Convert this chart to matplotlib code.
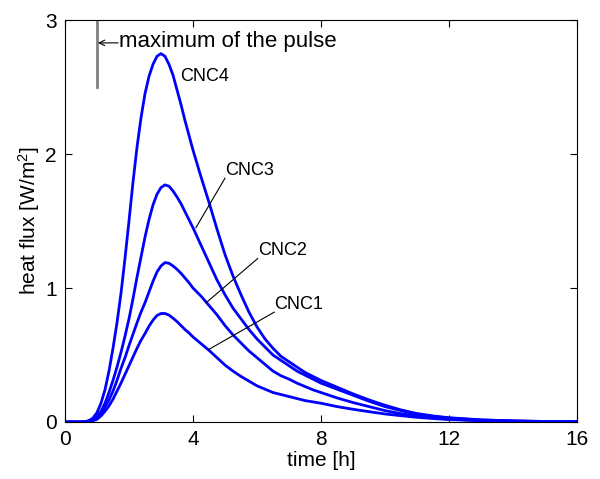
import matplotlib
matplotlib.use("Agg")
import matplotlib.pyplot as plt

plt.rcParams['font.family'] = ['Liberation Sans', 'DejaVu Sans']
plt.rcParams['mathtext.fontset'] = 'custom'
plt.rcParams['mathtext.rm'] = 'Liberation Sans'
plt.rcParams['mathtext.it'] = 'Liberation Sans:italic'

# time [h]
t = [0,
     0.5, 0.625, 0.75, 0.875, 1.0, 1.125, 1.25, 1.375, 1.5, 1.625, 1.75, 1.875,
     2.0, 2.125, 2.25, 2.375, 2.5, 2.625, 2.75, 2.875, 3.0, 3.125, 3.25, 3.375,
     3.5, 3.625, 3.75, 3.875, 4.0,
     4.25, 4.5, 4.75, 5.0, 5.25, 5.5, 5.75, 6.0, 6.25, 6.5, 6.75, 7.0, 7.25, 7.5, 7.75, 8.0,
     8.5, 9.0, 9.5, 10.0, 10.5, 11.0, 11.5, 12.0,
     13, 14, 15, 16]

# heat flux [W/m2]
cnc4 = [0,
        0, 0.003, 0.01, 0.03, 0.07, 0.14, 0.24, 0.38, 0.55, 0.74, 0.96, 1.22,
        1.50, 1.79, 2.05, 2.27, 2.45, 2.58, 2.67, 2.73, 2.75, 2.73, 2.67, 2.59,
        2.48, 2.37, 2.25, 2.14, 2.03,
        1.83, 1.64, 1.44, 1.25, 1.09, 0.95, 0.82, 0.71, 0.62, 0.55, 0.49, 0.45, 0.41, 0.37, 0.34, 0.31,
        0.26, 0.21, 0.165, 0.125, 0.09, 0.063, 0.045, 0.032,
        0.016, 0.008, 0.004, 0.002]
cnc3 = [0,
        0, 0.002, 0.008, 0.02, 0.04, 0.08, 0.14, 0.22, 0.31, 0.41, 0.52, 0.64,
        0.77, 0.92, 1.08, 1.23, 1.38, 1.51, 1.62, 1.70, 1.75, 1.77, 1.76, 1.725,
        1.68, 1.63, 1.57, 1.51, 1.45,
        1.32, 1.19, 1.06, 0.95, 0.85, 0.77, 0.69, 0.62, 0.56, 0.50, 0.46, 0.42, 0.38, 0.35, 0.32, 0.29,
        0.245, 0.20, 0.155, 0.115, 0.085, 0.058, 0.042, 0.029,
        0.015, 0.008, 0.004, 0.002]
cnc2 = [0,
        0, 0.002, 0.006, 0.015, 0.03, 0.06, 0.11, 0.165, 0.23, 0.31, 0.40, 0.48,
        0.57, 0.655, 0.74, 0.82, 0.89, 0.97, 1.05, 1.12, 1.165, 1.19, 1.185, 1.165,
        1.14, 1.11, 1.075, 1.04, 1.00,
        0.94, 0.87, 0.80, 0.72, 0.65, 0.59, 0.53, 0.48, 0.43, 0.38, 0.345, 0.32, 0.29, 0.265, 0.24, 0.22,
        0.18, 0.145, 0.115, 0.085, 0.062, 0.045, 0.032, 0.022,
        0.011, 0.006, 0.003, 0.002]
cnc1 = [0,
        0, 0.001, 0.004, 0.01, 0.02, 0.045, 0.08, 0.12, 0.17, 0.23, 0.29, 0.355,
        0.42, 0.485, 0.55, 0.61, 0.66, 0.715, 0.76, 0.795, 0.81, 0.81, 0.798, 0.775,
        0.75, 0.72, 0.69, 0.665, 0.635,
        0.585, 0.535, 0.48, 0.425, 0.38, 0.34, 0.305, 0.27, 0.245, 0.22, 0.205, 0.19, 0.175, 0.16, 0.15, 0.14,
        0.115, 0.095, 0.077, 0.06, 0.047, 0.035, 0.026, 0.018,
        0.009, 0.005, 0.003, 0.002]

# label text position and the point on the curve it points to
labels = ['CNC1', 'CNC2', 'CNC3']
label_xy = [(6.54, 0.88), (6.02, 1.28), (5.0, 1.88)]
label_tip = [(4.48, 0.54), (4.41, 0.89), (4.09, 1.45)]

fig = plt.figure(figsize=(6, 4.79), dpi=100)
ax = fig.add_axes([0.1083, 0.119, 0.8534, 0.839])

for y in [cnc1, cnc2, cnc3, cnc4]:
    ax.plot(t, y, color='#0000ff', lw=2)

# pulse maximum marker
ax.plot([1, 1], [2.5, 3], color='#808080', lw=2)
ax.annotate('', xy=(1.03, 2.83), xytext=(1.66, 2.83),
            arrowprops=dict(arrowstyle='->', lw=0.8, color='black', shrinkA=0, shrinkB=0))
ax.text(1.68, 2.84, 'maximum of the pulse', fontsize=16, va='center', ha='left')

ax.text(3.59, 2.58, 'CNC4', fontsize=13, va='center', ha='left')
for name, (lx, ly), (px, py) in zip(labels, label_xy, label_tip):
    ax.plot([px, lx], [py, ly - 0.06], color='black', lw=0.8)
    ax.text(lx, ly, name, fontsize=13, va='center', ha='left')

ax.set_xlim(0, 16)
ax.set_ylim(0, 3)
ax.set_xticks([0, 4, 8, 12, 16])
ax.set_yticks([0, 1, 2, 3])
ax.tick_params(direction='in', top=True, right=True, labelsize=15, length=5, pad=6)
ax.set_xlabel('time [h]', fontsize=15, labelpad=1)
ax.set_ylabel('heat flux [W/m$^2$]', fontsize=15, labelpad=2)

fig.savefig('out.png', dpi=100)
